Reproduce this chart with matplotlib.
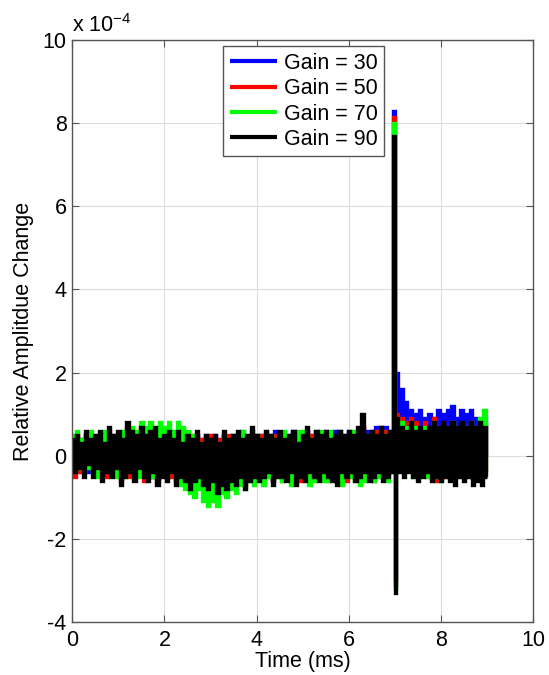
import numpy as np
import matplotlib
matplotlib.use("Agg")
import matplotlib.pyplot as plt

plt.rcParams['font.family'] = ['Liberation Sans', 'DejaVu Sans']
plt.rcParams['mathtext.fontset'] = 'custom'
plt.rcParams['mathtext.rm'] = 'Liberation Sans'
plt.rcParams['mathtext.it'] = 'Liberation Sans'
plt.rcParams['axes.unicode_minus'] = False

# ---- data (relative amplitude change, units of 1e-4) ----
labels = ['Gain = 30', 'Gain = 50', 'Gain = 70', 'Gain = 90']
colors = ['#0000ff', '#ff0000', '#00ff00', '#000000']

dt = 0.05  # ms between samples

g30_pre = [0.5, -0.4, 0.4, -0.4, 0.4, -0.4, 0.5, -0.4, 0.4, -0.4,
           0.4, -0.4, 0.5, -0.5, 0.4, -0.4, 0.5, -0.4, 0.5, -0.4,
           0.5, -0.5, 0.4, -0.4, 0.6, -0.4, 0.5, -0.5, 0.5, -0.4,
           0.5, -0.5, 0.5, -0.4, 0.5, -0.5, 0.6, -0.5, 0.4, -0.4,
           0.5, -0.5, 0.5, -0.4, 0.5, -0.5, 0.5, -0.4, 0.4, -0.5,
           0.5, -0.6, 0.4, -0.5, 0.5, -0.5, 0.4, -0.6, 0.5, -0.6,
           0.4, -0.5, 0.5, -0.7, 0.4, -0.6, 0.5, -0.6, 0.4, -0.5,
           0.5, -0.6, 0.5, -0.5, 0.6, -0.6, 0.4, -0.5, 0.5, -0.5,
           0.5, -0.5, 0.5, -0.5, 0.5, -0.4, 0.5, -0.6, 0.6, -0.4,
           0.5, -0.5, 0.5, -0.5, 0.5, -0.4, 0.6, -0.6, 0.5, -0.5,
           0.5, -0.5, 0.6, -0.4, 0.5, -0.5, 0.6, -0.5, 0.5, -0.4,
           0.6, -0.5, 0.5, -0.5, 0.6, -0.6, 0.6, -0.4, 0.5, -0.5,
           0.6, -0.4, 0.5, -0.5, 0.6, -0.5, 0.7, -0.4, 0.6, -0.5,
           0.6, -0.4, 0.7, -0.4, 0.7, -0.5, 0.7, -0.4, 0.6, -0.3]
g50_pre = [0.4, -0.5, 0.5, -0.4, 0.4, -0.4, 0.5, -0.3, 0.5, -0.4,
           0.5, -0.4, 0.5, -0.5, 0.4, -0.5, 0.6, -0.4, 0.4, -0.4,
           0.5, -0.6, 0.5, -0.4, 0.7, -0.5, 0.5, -0.5, 0.6, -0.4,
           0.6, -0.6, 0.4, -0.5, 0.5, -0.5, 0.6, -0.6, 0.5, -0.4,
           0.4, -0.5, 0.5, -0.5, 0.5, -0.6, 0.5, -0.4, 0.4, -0.5,
           0.4, -0.7, 0.5, -0.5, 0.5, -0.6, 0.4, -0.6, 0.4, -0.7,
           0.5, -0.5, 0.4, -0.8, 0.4, -0.6, 0.5, -0.7, 0.5, -0.5,
           0.4, -0.6, 0.5, -0.6, 0.5, -0.7, 0.4, -0.5, 0.6, -0.6,
           0.4, -0.5, 0.5, -0.6, 0.5, -0.5, 0.4, -0.6, 0.5, -0.4,
           0.5, -0.6, 0.5, -0.5, 0.4, -0.5, 0.5, -0.6, 0.4, -0.6,
           0.4, -0.5, 0.6, -0.5, 0.5, -0.6, 0.5, -0.5, 0.4, -0.5,
           0.5, -0.6, 0.5, -0.5, 0.4, -0.6, 0.5, -0.5, 0.4, -0.6,
           0.5, -0.5, 0.4, -0.5, 0.6, -0.6, 0.7, -0.5, 0.4, -0.5,
           0.5, -0.6, 0.6, -0.5, 0.6, -0.5, 0.6, -0.4, 0.5, -0.4]
g70_pre = [0.5, -0.4, 0.6, -0.3, 0.4, -0.4, 0.5, -0.3, 0.6, -0.4,
           0.4, -0.5, 0.5, -0.4, 0.6, -0.3, 0.5, -0.4, 0.4, -0.5,
           0.5, -0.4, 0.6, -0.5, 0.5, -0.3, 0.7, -0.4, 0.6, -0.5,
           0.8, -0.3, 0.7, -0.4, 0.8, -0.5, 0.6, -0.3, 0.8, -0.4,
           0.7, -0.5, 0.8, -0.4, 0.6, -0.6, 0.8, -0.7, 0.7, -0.8,
           0.6, -0.9, 0.5, -1.0, 0.4, -0.8, 0.3, -1.1, 0.4, -1.2,
           0.2, -1.1, 0.4, -1.2, 0.3, -0.9, 0.5, -1.0, 0.4, -0.8,
           0.5, -0.9, 0.4, -0.7, 0.6, -0.8, 0.5, -0.6, 0.4, -0.7,
           0.5, -0.6, 0.4, -0.7, 0.6, -0.5, 0.5, -0.6, 0.4, -0.5,
           0.5, -0.6, 0.6, -0.5, 0.4, -0.7, 0.5, -0.6, 0.6, -0.5,
           0.6, -0.5, 0.5, -0.7, 0.4, -0.6, 0.5, -0.5, 0.6, -0.6,
           0.5, -0.6, 0.6, -0.5, 0.4, -0.6, 0.5, -0.7, 0.4, -0.5,
           0.5, -0.5, 0.6, -0.6, 0.5, -0.7, 0.4, -0.6, 0.5, -0.5,
           0.5, -0.6, 0.4, -0.5, 0.6, -0.4, 0.5, -0.6, 0.5, -0.4]
g90_pre = [0.4, -0.4, 0.5, -0.3, 0.3, -0.5, 0.6, -0.2, 0.4, -0.5,
           0.5, -0.3, 0.6, -0.6, 0.3, -0.4, 0.7, -0.5, 0.5, -0.3,
           0.6, -0.7, 0.4, -0.5, 0.8, -0.4, 0.6, -0.6, 0.5, -0.3,
           0.7, -0.5, 0.5, -0.6, 0.6, -0.4, 0.7, -0.7, 0.4, -0.5,
           0.5, -0.6, 0.6, -0.4, 0.4, -0.7, 0.6, -0.5, 0.3, -0.6,
           0.5, -0.8, 0.4, -0.6, 0.6, -0.5, 0.3, -0.7, 0.5, -0.8,
           0.4, -0.6, 0.5, -0.9, 0.3, -0.7, 0.6, -0.8, 0.4, -0.6,
           0.5, -0.7, 0.6, -0.5, 0.4, -0.8, 0.5, -0.6, 0.7, -0.5,
           0.5, -0.6, 0.4, -0.5, 0.6, -0.4, 0.5, -0.7, 0.4, -0.5,
           0.6, -0.5, 0.4, -0.6, 0.5, -0.4, 0.6, -0.7, 0.3, -0.5,
           0.5, -0.6, 0.7, -0.4, 0.4, -0.5, 0.6, -0.6, 0.5, -0.4,
           0.6, -0.5, 0.4, -0.6, 0.5, -0.7, 0.6, -0.4, 0.5, -0.5,
           0.6, -0.4, 0.5, -0.6, 0.7, -0.5, 1.0, -0.4, 0.5, -0.6,
           0.6, -0.5, 0.5, -0.4, 0.7, -0.6, 0.5, -0.5, 0.6, -0.4]

spike_t = [6.985, 7.005]
g30_spike = [8.3, -3.0]
g50_spike = [8.15, -3.1]
g70_spike = [8.0, -3.2]
g90_spike = [7.7, -3.3]

post_t0 = 7.05
g30_post = [2.0, 0.6, 1.6, 0.5, 1.3, 0.3, 1.1, 0.2, 1.0, 0.1,
            1.1, 0.0, 0.9, 0.2, 1.0, 0.1, 0.9, 0.0, 1.1, 0.2,
            1.0, 0.0, 1.1, 0.1, 1.2, 0.0, 0.9, 0.1, 1.1, -0.1,
            1.0, 0.2, 1.1, 0.0, 0.9, 0.1, 0.8, -0.1, 0.9, 0.0]
g50_post = [1.0, -0.2, 0.9, -0.3, 0.8, -0.2, 0.9, -0.3, 0.8, -0.4,
            0.7, -0.3, 0.8, -0.5, 0.7, -0.4, 0.9, -0.6, 0.7, -0.4,
            0.8, -0.5, 0.7, -0.4, 0.8, -0.5, 0.7, -0.4, 0.6, -0.5,
            0.7, -0.4, 0.8, -0.5, 0.7, -0.4, 0.6, -0.5, 0.7, -0.4]
g70_post = [0.9, -0.3, 0.8, -0.4, 0.7, -0.3, 0.8, -0.5, 0.7, -0.4,
            0.6, -0.3, 0.7, -0.5, 0.6, -0.4, 0.8, -0.5, 0.7, -0.6,
            0.6, -0.4, 0.7, -0.5, 0.8, -0.4, 0.7, -0.5, 0.6, -0.4,
            0.7, -0.5, 0.8, -0.4, 0.7, -0.5, 0.9, -0.5, 1.1, -0.4]
g90_post = [0.9, -0.4, 0.7, -0.5, 0.6, -0.4, 0.8, -0.5, 0.6, -0.6,
            0.7, -0.5, 0.6, -0.4, 0.7, -0.6, 0.8, -0.5, 0.7, -0.6,
            0.8, -0.5, 0.7, -0.6, 0.8, -0.7, 0.7, -0.5, 0.8, -0.6,
            0.7, -0.5, 0.8, -0.7, 0.7, -0.6, 0.8, -0.7, 0.7, -0.5]

xticks = [0, 2, 4, 6, 8, 10]
yticks = [-4, -2, 0, 2, 4, 6, 8, 10]

# ---- build series ----
pre_t = np.arange(len(g90_pre)) * dt
post_t = post_t0 + np.arange(len(g90_post)) * dt
t = np.concatenate([pre_t, spike_t, post_t])
series = [
    g30_pre + g30_spike + g30_post,
    g50_pre + g50_spike + g50_post,
    g70_pre + g70_spike + g70_post,
    g90_pre + g90_spike + g90_post,
]

FS = 15.5
fig = plt.figure(figsize=(5.49, 6.75), dpi=100)
ax = fig.add_axes([0.1317, 0.0785, 0.8392, 0.8622])

for y, c, lab in zip(series, colors, labels):
    ax.plot(t, y, color=c, lw=2.4, label=lab, drawstyle='steps-mid',
            solid_joinstyle='miter', solid_capstyle='butt')

ax.set_xlim(0, 10)
ax.set_ylim(-4, 10)
ax.set_xticks(xticks)
ax.set_yticks(yticks)
ax.grid(True, color='#dcdcdc', lw=0.8)
ax.set_axisbelow(True)
ax.tick_params(direction='in', length=5, top=True, right=True,
               labelsize=FS, colors='#555555', labelcolor='black')
ax.tick_params(axis='x', pad=6)
ax.tick_params(axis='y', pad=4)
for s in ax.spines.values():
    s.set_color('#555555')
    s.set_linewidth(1.0)

ax.set_xlabel('Time (ms)', fontsize=FS, labelpad=0)
ax.set_ylabel('Relative Amplitdue Change', fontsize=FS, labelpad=6)
ax.text(0.0, 1.006, r'x 10$^{-4}$', transform=ax.transAxes,
        fontsize=FS, ha='left', va='bottom')

leg = ax.legend(loc='upper center', fontsize=FS, handlelength=2.2,
                handletextpad=0.3, labelspacing=0.2, borderpad=0.3,
                borderaxespad=0.3, fancybox=False, framealpha=1,
                edgecolor='#555555', bbox_to_anchor=(0.502, 1.0))
leg.get_frame().set_linewidth(1.0)
for h in leg.get_lines():
    h.set_linewidth(3)

fig.savefig('out.png', dpi=100)
